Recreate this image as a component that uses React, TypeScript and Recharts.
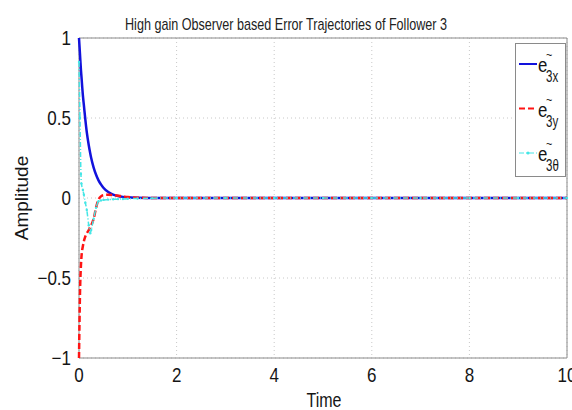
import {
  CartesianGrid,
  Line,
  LineChart,
  ReferenceArea,
  XAxis,
  YAxis,
} from "recharts";

// sample times (s) and the three observer error components
const TIME = [0, 0.02, 0.04, 0.05, 0.08, 0.1, 0.13, 0.16, 0.2, 0.23, 0.25, 0.3, 0.35, 0.4, 0.45, 0.5, 0.6, 0.7, 0.8, 0.9, 1, 1.2, 1.5, 2, 3, 4, 5, 6, 7, 8, 9, 10];
const E3X = [1, 0.9, 0.8, 0.76, 0.64, 0.58, 0.49, 0.41, 0.33, 0.28, 0.25, 0.19, 0.145, 0.11, 0.085, 0.064, 0.037, 0.021, 0.012, 0.007, 0.004, 0.0015, 0, 0, 0, 0, 0, 0, 0, 0, 0, 0];
const E3Y = [-1, -0.6, -0.42, -0.37, -0.3, -0.27, -0.24, -0.22, -0.2, -0.18, -0.17, -0.13, -0.06, -0.01, 0.01, 0.018, 0.02, 0.018, 0.014, 0.01, 0.006, 0.002, 0, 0, 0, 0, 0, 0, 0, 0, 0, 0];
const E3T = [0.85, 0.5, 0.15, 0.09, 0.05, 0.02, -0.03, -0.075, -0.17, -0.22, -0.2, -0.13, -0.06, -0.02, -0.015, -0.012, -0.01, -0.008, -0.007, -0.006, -0.005, -0.003, -0.001, 0, 0, 0, 0, 0, 0, 0, 0, 0];

const X_TICKS = [0, 2, 4, 6, 8, 10];
const Y_TICKS = [-1, -0.5, 0, 0.5, 1];

const data = TIME.map((t, i) => ({ t, ex: E3X[i], ey: E3Y[i], et: E3T[i] }));

const FONT = "'Liberation Sans', Arial, sans-serif";
const INK = "#151515";

const SERIES = [
  { key: "ex", sub: "3x", color: "#1212dc", dash: undefined, width: 2.5 },
  { key: "ey", sub: "3y", color: "#ff1414", dash: "6 3", width: 2.5 },
  { key: "et", sub: "3θ", color: "#45e6e6", dash: "5 2 1 2", width: 1.5 },
];

const fmt = (v: number) => (v < 0 ? "\u2212" + String(-v) : String(v));

// MATLAB-style narrow tick labels
function YTick({ x, y, payload }: any) {
  return (
    <text transform={`translate(${x} ${y}) scale(0.85 1)`} textAnchor="end" dy={7} fontFamily={FONT} fontSize={20} fill={INK}>
      {fmt(payload.value)}
    </text>
  );
}

function XTick({ x, y, payload }: any) {
  return (
    <text transform={`translate(${x} ${y}) scale(0.85 1)`} textAnchor="middle" dy={16} fontFamily={FONT} fontSize={20} fill={INK}>
      {fmt(payload.value)}
    </text>
  );
}

function LegendBox() {
  return (
    <svg width={52} height={135} style={{ position: "absolute", left: 515, top: 43 }}>
      <rect x={0.5} y={0.5} width={50} height={133} fill="#fff" stroke="#8a8a8a" />
      {SERIES.map((s, i) => {
        const y = 21 + i * 44.5;
        return (
          <g key={s.key}>
            <line x1={4} x2={22} y1={y} y2={y} stroke={s.color} strokeWidth={s.width - 0.5} strokeDasharray={s.dash} />
            {s.key === "et" && <circle cx={13} cy={y} r={1.5} fill={s.color} />}
            <text transform={`translate(23 ${y + 8}) scale(0.8 1)`} fontFamily={FONT} fontSize={21} fill={INK}>e</text>
            <text transform={`translate(31 ${y - 5}) scale(0.9 1)`} fontFamily={FONT} fontSize={12} fill={INK}>~</text>
            <text transform={`translate(31 ${y + 18}) scale(0.72 1)`} fontFamily={FONT} fontSize={16} fill={INK}>{s.sub}</text>
          </g>
        );
      })}
    </svg>
  );
}

export default function App() {
  return (
    <div style={{ position: "relative", width: 572, height: 410, background: "#fff" }}>
      <style>{`body { margin: 0; }`}</style>
      <LineChart width={572} height={410} data={data} margin={{ top: 38, right: 5, bottom: 22, left: 19 }}>
        <CartesianGrid stroke="#c8c8c8" strokeDasharray="1 3" />
        <XAxis
          dataKey="t"
          type="number"
          domain={[0, 10]}
          ticks={X_TICKS}
          tickLine={false}
          axisLine={false}
          height={30}
          interval={0}
          tick={<XTick />}
        />
        <YAxis
          type="number"
          domain={[-1, 1]}
          ticks={Y_TICKS}
          tickLine={false}
          axisLine={false}
          width={60}
          interval={0}
          tick={<YTick />}
        />
        <ReferenceArea x1={0} x2={10} y1={-1} y2={1} fill="none" stroke="#8a8a8a" strokeWidth={1} ifOverflow="visible" />
        {SERIES.map((s) => (
          <Line
            key={s.key}
            dataKey={s.key}
            type="monotone"
            stroke={s.color}
            strokeWidth={s.width}
            strokeDasharray={s.dash}
            dot={s.key === "et" ? { r: 1.2, fill: s.color, stroke: "none" } : false}
            activeDot={false}
            isAnimationActive={false}
          />
        ))}
      </LineChart>
      <LegendBox />
      <svg width={572} height={410} style={{ position: "absolute", left: 0, top: 0, pointerEvents: "none" }}>
        <text x={286} y={30} textAnchor="middle" fontFamily={FONT} fontSize={17} textLength={322} lengthAdjust="spacingAndGlyphs" fill="#222">
          High gain Observer based Error Trajectories of Follower 3
        </text>
        <text transform="translate(324 407) scale(0.8 1)" textAnchor="middle" fontFamily={FONT} fontSize={20} fill={INK}>Time</text>
        <text transform="translate(28 198) rotate(-90)" textAnchor="middle" fontFamily={FONT} fontSize={19} fill={INK}>Amplitude</text>
      </svg>
    </div>
  );
}
